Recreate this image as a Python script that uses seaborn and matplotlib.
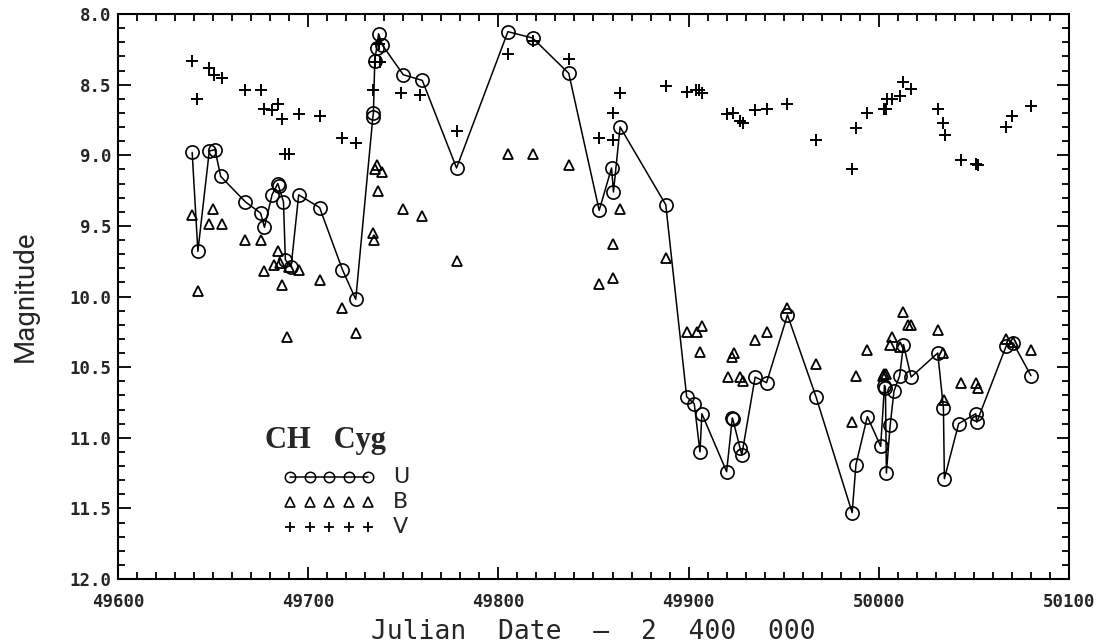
import numpy as np
import pandas as pd
import matplotlib
matplotlib.use("Agg")
import matplotlib.pyplot as plt
from matplotlib.ticker import MultipleLocator, FormatStrFormatter
import seaborn as sns

# ---------------- data ----------------
u_day = [49639, 49642, 49648, 49651, 49654, 49667, 49675, 49677, 49681, 49684, 49684.5,
         49687, 49688, 49691, 49695, 49706, 49718, 49725, 49734, 49734.3, 49735, 49736,
         49737, 49739, 49750, 49760, 49778, 49805, 49818, 49837, 49853, 49859.5, 49860.5,
         49864, 49888, 49899, 49903, 49906, 49907, 49920, 49923, 49923.3, 49927, 49928,
         49935, 49941, 49952, 49967, 49986, 49988, 49994, 50001, 50003, 50003.5, 50004,
         50006, 50008, 50011, 50013, 50017, 50031, 50034, 50034.5, 50042, 50051, 50051.5,
         50067, 50070.7, 50080]
u_mag = [8.98, 9.68, 8.97, 8.96, 9.15, 9.33, 9.41, 9.51, 9.28, 9.20, 9.22,
         9.33, 9.74, 9.79, 9.28, 9.37, 9.81, 10.02, 8.73, 8.70, 8.33, 8.24,
         8.14, 8.22, 8.43, 8.47, 9.09, 8.125, 8.17, 8.42, 9.39, 9.09, 9.26,
         8.80, 9.35, 10.71, 10.76, 11.10, 10.83, 11.24, 10.86, 10.87, 11.07, 11.12,
         10.57, 10.61, 10.13, 10.71, 11.53, 11.19, 10.85, 11.06, 10.63, 10.65, 11.25,
         10.91, 10.67, 10.56, 10.34, 10.57, 10.40, 10.79, 11.29, 10.90, 10.83, 10.89,
         10.35, 10.33, 10.56]

b_day = [49639, 49642, 49648, 49650, 49654.5, 49667, 49675, 49677, 49682, 49684, 49685,
         49686, 49689, 49690, 49695, 49706, 49718, 49725, 49734, 49734.5, 49735, 49736,
         49736.5, 49739, 49750, 49760, 49778, 49805, 49818, 49837, 49853, 49860, 49860.5,
         49864, 49888, 49899, 49904.5, 49906, 49907, 49920.5, 49923, 49924, 49927, 49928.5,
         49935, 49941, 49952, 49967, 49986, 49988, 49994, 50002, 50003, 50004, 50006,
         50007, 50011, 50012.5, 50015.5, 50017, 50031, 50034, 50034.5, 50043, 50051,
         50052, 50067, 50070.7, 50080]
b_mag = [9.42, 9.96, 9.49, 9.38, 9.49, 9.60, 9.60, 9.82, 9.78, 9.68, 9.76,
         9.92, 10.29, 9.79, 9.81, 9.88, 10.08, 10.26, 9.55, 9.60, 9.10, 9.07,
         9.25, 9.12, 9.38, 9.43, 9.75, 8.99, 8.99, 9.07, 9.91, 9.87, 9.63,
         9.38, 9.73, 10.25, 10.25, 10.39, 10.21, 10.57, 10.43, 10.40, 10.57, 10.60,
         10.31, 10.25, 10.08, 10.48, 10.89, 10.56, 10.38, 10.56, 10.55, 10.55, 10.34,
         10.29, 10.36, 10.11, 10.20, 10.20, 10.24, 10.40, 10.73, 10.61, 10.61,
         10.65, 10.30, 10.32, 10.38]

v_day = [49639, 49641.6, 49648, 49650.5, 49654.5, 49667, 49675, 49677, 49681, 49684,
         49686, 49688, 49690, 49695, 49706, 49718, 49725, 49734, 49735, 49737, 49738,
         49749, 49759, 49778, 49805, 49818, 49837, 49853, 49860, 49860.5, 49864, 49888,
         49899, 49904, 49905.6, 49907, 49920, 49923.5, 49927, 49928.5, 49935, 49941,
         49952, 49967, 49986, 49988, 49994, 50003, 50004, 50004.5, 50007, 50011, 50012.5,
         50017, 50031, 50033.7, 50035, 50043, 50051, 50052, 50067, 50070, 50080]
v_mag = [8.33, 8.60, 8.38, 8.43, 8.45, 8.54, 8.54, 8.67, 8.68, 8.64,
         8.74, 8.99, 8.99, 8.71, 8.72, 8.88, 8.91, 8.54, 8.34, 8.21, 8.34,
         8.56, 8.57, 8.83, 8.28, 8.19, 8.32, 8.88, 8.70, 8.89, 8.56, 8.51,
         8.55, 8.54, 8.54, 8.56, 8.71, 8.70, 8.76, 8.77, 8.68, 8.67,
         8.64, 8.89, 9.10, 8.81, 8.70, 8.67, 8.67, 8.60, 8.60, 8.58, 8.48,
         8.53, 8.67, 8.77, 8.86, 9.03, 9.06, 9.07, 8.80, 8.72, 8.65]

x_ticks = [49600, 49700, 49800, 49900, 50000, 50100]
y_ticks = [8.0, 8.5, 9.0, 9.5, 10.0, 10.5, 11.0, 11.5, 12.0]
series_labels = ["U", "B", "V"]
star_name = "CH   Cyg"

# ---------------- style ----------------
sns.set_style("ticks")
plt.rcParams["font.family"] = ["DejaVu Sans"]

fig = plt.figure(figsize=(11.09, 6.43), dpi=100)
ax = fig.add_axes([0.1064, 0.0995, 0.8575, 0.8787])

dfu = pd.DataFrame({"day": u_day, "mag": u_mag})
dfb = pd.DataFrame({"day": b_day, "mag": b_mag})
dfv = pd.DataFrame({"day": v_day, "mag": v_mag})

sns.lineplot(data=dfu, x="day", y="mag", ax=ax, estimator=None, sort=False,
             color="black", lw=1.1, marker="o", markersize=9.5,
             markerfacecolor="none", markeredgecolor="black", markeredgewidth=1.2)
sns.lineplot(data=dfb, x="day", y="mag", ax=ax, estimator=None, sort=False,
             color="black", linestyle="none", marker="^", markersize=7.5,
             markerfacecolor="none", markeredgecolor="black", markeredgewidth=1.3)
sns.lineplot(data=dfv, x="day", y="mag", ax=ax, estimator=None, sort=False,
             color="black", linestyle="none", marker="+", markersize=8,
             markeredgecolor="black", markeredgewidth=1.4)

ax.set_xlim(x_ticks[0], x_ticks[-1])
ax.set_ylim(y_ticks[-1], y_ticks[0])
ax.set_xticks(x_ticks)
ax.set_yticks(y_ticks)
ax.xaxis.set_minor_locator(MultipleLocator(10))
ax.yaxis.set_minor_locator(MultipleLocator(0.1))
ax.yaxis.set_major_formatter(FormatStrFormatter("%.1f"))

for s in ax.spines.values():
    s.set_linewidth(1.5)
    s.set_color("black")
    s.set_visible(True)

ax.tick_params(which="both", direction="in", top=True, right=True,
               width=1.3, color="black")
ax.tick_params(which="major", length=9)
ax.tick_params(which="minor", length=5)
ax.tick_params(axis="x", which="major", pad=10)
ax.tick_params(axis="y", which="major", pad=5)
for lab in ax.get_xticklabels() + ax.get_yticklabels():
    lab.set_fontfamily("DejaVu Sans Mono")
    lab.set_fontsize(12.5)
    lab.set_fontweight("bold")

ax.set_xlabel("Julian  Date  \u2013  2  400  000", fontfamily="DejaVu Sans Mono",
              fontsize=19, labelpad=6)
ax.set_ylabel("Magnitude", fontfamily="Roboto", fontsize=20, labelpad=22)

# ---------------- legend ----------------
ax.text(0.1546, 0.246, star_name, transform=ax.transAxes, fontfamily="Liberation Serif",
        fontweight="bold", fontsize=22, va="center", ha="left")
lx = np.linspace(0.1809, 0.2629, 5)
rows_y = [0.1805, 0.136, 0.092]
ax.plot(lx, [rows_y[0]] * 5, transform=ax.transAxes, color="black", lw=1.1,
        marker="o", ms=7.5, mfc="none", mew=1.1, clip_on=False)
ax.plot(lx, [rows_y[1]] * 5, transform=ax.transAxes, color="black", ls="none",
        marker="^", ms=6.5, mfc="none", mew=1.2, clip_on=False)
ax.plot(lx, [rows_y[2]] * 5, transform=ax.transAxes, color="black", ls="none",
        marker="+", ms=7.5, mew=1.3, clip_on=False)
for lab, yy in zip(series_labels, rows_y):
    ax.text(0.2892, yy, lab, transform=ax.transAxes, fontfamily="DejaVu Sans",
            fontsize=16, va="center", ha="left")

fig.savefig("out.png", dpi=100, facecolor="white")
